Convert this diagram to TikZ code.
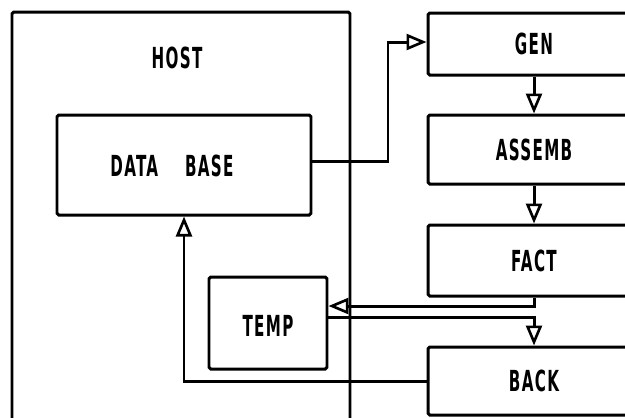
\documentclass[tikz,border=0pt]{standalone}
\usepackage{fontspec}
\setsansfont{DejaVu Sans Condensed}[LetterSpace=8]
\usetikzlibrary{arrows.meta,fit}
\tikzset{
    box/.style={draw, line width=1.7pt, inner sep=0pt, rounded corners=1pt},
    flow/.style={line width=1.7pt, -{Triangle[open,length=4mm,width=3.2mm,line width=1.5pt]}},
    txt/.style={font=\sffamily\bfseries\fontsize{16.5}{19}\selectfont}
}
\newcommand{\tall}[1]{\scalebox{0.58}[1]{#1}}
\newcommand{\stage}[4]{
    \node[box, fit={(428,#2) (640,#3)}, label={[txt]center:\tall{#4}}] (#1) {};
}

\begin{document}
\begin{tikzpicture}[x=0.02cm,y=-0.02cm]
        \useasboundingbox (0,0) rectangle (625,417);
        \clip (0,0) rectangle (625,417);
        \node[box, fit={(12,12) (350,440)}] (host) {};
        \node[txt] (hostlbl) at (177,58) {\tall{HOST}};
        \node[box, fit={(57,115) (311,215)}] (db) {};
        \node[txt] (dblbl) at (172,166) {\tall{DATA\hspace{1.6em}BASE}};
        \node[box, fit={(209,277) (327,369)}] (temp) {};
        \node[txt] (templbl) at (268,326) {\tall{TEMP}};
        \stage{gen}{13}{75}{GEN}
        \stage{assemb}{115}{184}{ASSEMB}
        \stage{fact}{225}{296}{FACT}
        \stage{back}{347}{415}{BACK}
        \draw[flow] ([yshift=0.08cm]db.east) -| (388,100) |- ([yshift=0.04cm]gen.west);
        \draw[flow] (gen.south) -- (assemb.north);
        \draw[flow] (assemb.south) -- (fact.north);
        \draw[flow] (fact.south) |- ([yshift=0.34cm]temp.east);
        \draw[flow] ([yshift=0.12cm]temp.east) -| (back.north);
        \draw[flow] (back.west) -| (db.south);
    \end{tikzpicture}
\end{document}
